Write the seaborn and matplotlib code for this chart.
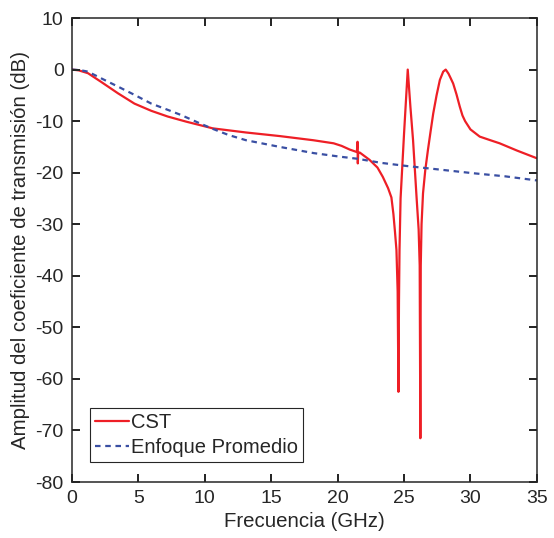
import matplotlib
matplotlib.use("Agg")
import matplotlib.pyplot as plt
import seaborn as sns
import pandas as pd

# ---- data ----
cst_f = [0, 0.5, 1.2, 2.2, 3.46, 4.7, 5.97, 7.2, 8.6, 10.6, 13.1, 15.65, 18.16, 19.7, 20.3,
         20.9, 21.45, 21.5, 21.52, 21.55, 21.67, 22.4, 23.0, 23.4, 23.8, 24.05, 24.2, 24.32,
         24.43, 24.52, 24.58, 24.62, 24.66, 24.74, 25.0, 25.28, 25.48, 25.68, 25.95,
         26.1, 26.18, 26.23, 26.26, 26.32, 26.43, 26.6, 26.8, 27.0, 27.2, 27.45, 27.7, 27.95,
         28.14, 28.35, 28.5, 28.7, 28.95, 29.2, 29.4, 29.6, 29.8, 30.0, 30.3, 30.7, 31.5,
         32.2, 33.5, 35.0]
cst_db = [0, -0.15, -0.7, -2.4, -4.6, -6.6, -8.0, -9.1, -10.1, -11.4, -12.2, -12.9, -13.7, -14.3, -14.8,
          -15.5, -16.0, -14.0, -18.2, -16.05, -16.1, -17.5, -19.0, -20.8, -23.0, -24.8, -28.0, -31.5,
          -35.0, -43.0, -62.5, -45.0, -35.0, -25.0, -12.5, 0.0, -7.2, -13.7, -25.0,
          -31.0, -38.0, -71.5, -38.0, -30.0, -24.0, -19.5, -15.6, -12.0, -8.5, -5.0, -2.0, -0.4,
          0.0, -0.8, -1.6, -2.7, -4.8, -7.2, -8.9, -10.0, -10.8, -11.6, -12.2, -13.0, -13.7,
          -14.3, -15.7, -17.2]

avg_f = [0, 0.6, 1.2, 2.2, 3.46, 4.7, 5.97, 7.2, 8.2, 9.6, 10.6, 11.8, 13.1, 15.65, 18.2,
         20.2, 21.5, 23.3, 25.2, 27.7, 30.2, 32.6, 35.0]
avg_db = [0, -0.1, -0.4, -1.7, -3.3, -4.9, -6.6, -7.8, -8.8, -10.4, -11.5, -12.7, -13.7, -15.0,
          -16.2, -16.9, -17.3, -18.1, -18.7, -19.4, -20.1, -20.7, -21.5]

labels = ["CST", "Enfoque Promedio"]
x_ticks = [0, 5, 10, 15, 20, 25, 30, 35]
y_ticks = [-80, -70, -60, -50, -40, -30, -20, -10, 0, 10]

dark = "#262626"
sns.set_style("white")
plt.rcParams.update({
    "font.family": ["Liberation Sans", "DejaVu Sans"],
    "axes.unicode_minus": False,
    "axes.axisbelow": False,
    "xtick.direction": "in", "ytick.direction": "in",
    "xtick.bottom": True, "xtick.top": True,
    "ytick.left": True, "ytick.right": True,
    "xtick.major.size": 6, "ytick.major.size": 6,
    "xtick.major.width": 1.3, "ytick.major.width": 1.3,
    "xtick.color": dark, "ytick.color": dark,
    "axes.edgecolor": dark, "axes.linewidth": 1.1,
})

fig = plt.figure(figsize=(5.54, 5.38), dpi=100)
ax = fig.add_axes([0.130, 0.104, 0.839, 0.8625])

df_cst = pd.DataFrame({"f": cst_f, "db": cst_db})
df_avg = pd.DataFrame({"f": avg_f, "db": avg_db})

sns.lineplot(data=df_cst, x="f", y="db", ax=ax, sort=False, estimator=None,
             color="#ee1f26", linewidth=1.6, label=labels[0])
sns.lineplot(data=df_avg, x="f", y="db", ax=ax, sort=False, estimator=None,
             color="#3a4fa3", linewidth=1.6, label=labels[1])
ax.lines[1].set_dashes([2.5, 2.1])

ax.set_xlim(0, 35)
ax.set_ylim(-80, 10)
ax.set_xticks(x_ticks)
ax.set_yticks(y_ticks)
ax.tick_params(axis="both", which="major", direction="in", bottom=True, left=True,
               top=True, right=True, length=6, width=1.3, labelsize=14,
               color=dark, labelcolor=dark, pad=6)

# inward tick marks on all four sides (drawn explicitly at the tick positions)
tlx = 0.017
tly = 0.017
xt = ax.get_xaxis_transform()
yt = ax.get_yaxis_transform()
ax.vlines(x_ticks, 0, tlx, transform=xt, colors=dark, linewidth=1.3, clip_on=False, zorder=4)
ax.vlines(x_ticks, 1 - tlx, 1, transform=xt, colors=dark, linewidth=1.3, clip_on=False, zorder=4)
ax.hlines(y_ticks, 0, tly, transform=yt, colors=dark, linewidth=1.3, clip_on=False, zorder=4)
ax.hlines(y_ticks, 1 - tly, 1, transform=yt, colors=dark, linewidth=1.3, clip_on=False, zorder=4)

ax.set_xlabel("Frecuencia (GHz)", fontsize=14.7, color=dark, labelpad=3)
ax.set_ylabel("Amplitud del coeficiente de transmisión (dB)", fontsize=14.7, color=dark, labelpad=4)

leg = ax.legend(loc="lower left", bbox_to_anchor=(0.0387, 0.0438), fontsize=14.5,
                frameon=True, fancybox=False, borderpad=0.25, handletextpad=0.1,
                handlelength=1.7, labelspacing=0.3, borderaxespad=0.0)
leg.get_frame().set_edgecolor(dark)
leg.get_frame().set_linewidth(0.8)
leg.get_frame().set_alpha(1.0)

fig.savefig("out.png", dpi=100)
